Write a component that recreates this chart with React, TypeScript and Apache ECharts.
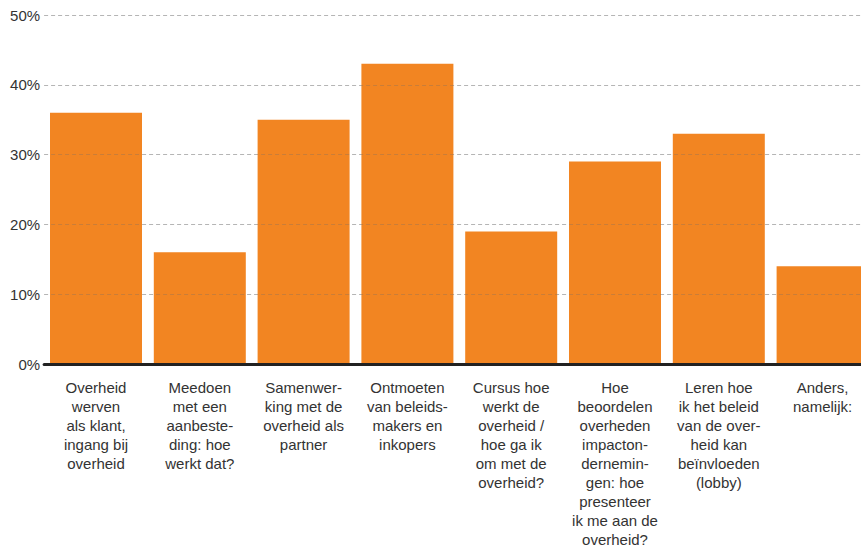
import React, { useEffect, useRef } from "react";
import * as echarts from "echarts";

const categories = [
  "Overheid\nwerven\nals klant,\ningang bij\noverheid",
  "Meedoen\nmet een\naanbeste-\nding: hoe\nwerkt dat?",
  "Samenwer-\nking met de\noverheid als\npartner",
  "Ontmoeten\nvan beleids-\nmakers en\ninkopers",
  "Cursus hoe\nwerkt de\noverheid /\nhoe ga ik\nom met de\noverheid?",
  "Hoe\nbeoordelen\noverheden\nimpacton-\ndernemin-\ngen: hoe\npresenteer\nik me aan de\noverheid?",
  "Leren hoe\nik het beleid\nvan de over-\nheid kan\nbeïnvloeden\n(lobby)",
  "Anders,\nnamelijk:",
];
const values = [36, 16, 35, 43, 19, 29, 33, 14];
const yTicks = [0, 10, 20, 30, 40, 50];

export default function App() {
  const ref = useRef<HTMLDivElement>(null);
  useEffect(() => {
    if (!ref.current) return;
    const chart = echarts.init(ref.current, null, { renderer: "svg" });
    chart.setOption({
      animation: false,
      textStyle: { fontFamily: "Liberation Sans, Arial, sans-serif" },
      grid: {
        left: 44.1,
        width: 830.4,
        top: 15,
        bottom: 186,
        containLabel: false,
        outerBoundsMode: "none",
      },
      xAxis: {
        type: "category",
        data: categories,
        z: 4,
        axisLine: { show: true, lineStyle: { color: "#222", width: 3 } },
        axisTick: { show: false },
        axisLabel: {
          interval: 0,
          color: "#333",
          fontSize: 15,
          lineHeight: 19,
          margin: 14,
          align: "center",
        },
      },
      yAxis: {
        type: "value",
        min: yTicks[0],
        max: yTicks[yTicks.length - 1],
        interval: 10,
        axisLine: { show: false },
        axisTick: { show: false },
        axisLabel: {
          formatter: (v: number) => `${v}%`,
          color: "#333",
          fontSize: 15,
          margin: 4,
        },
        splitLine: {
          show: true,
          lineStyle: { color: "#d4d4d4", type: [4, 3], width: 1 },
        },
      },
      series: [
        {
          type: "bar",
          data: values,
          barWidth: 92,
          itemStyle: { color: "#F28522" },
          z: 2,
          markLine: {
            silent: true,
            symbol: "none",
            label: { show: false },
            lineStyle: { color: "rgba(110,110,110,0.3)", type: [4, 3], width: 1 },
            data: yTicks.slice(1).map((t) => ({ yAxis: t })),
          },
        },
      ],
    });
    return () => chart.dispose();
  }, []);
  return (
    <div
      ref={ref}
      style={{ position: "absolute", left: 0, top: 0, width: 861, height: 550 }}
    />
  );
}
